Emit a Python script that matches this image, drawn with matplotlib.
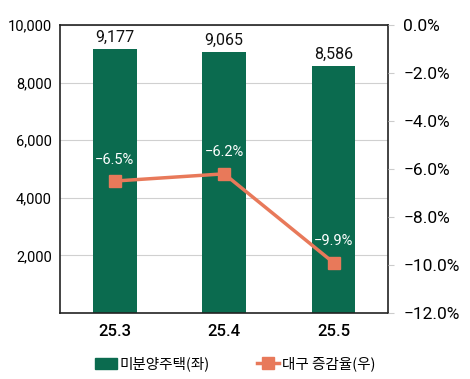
import matplotlib.pyplot as plt
from matplotlib.ticker import FuncFormatter

plt.rcParams['font.family'] = ['Roboto', 'Noto Sans CJK KR', 'DejaVu Sans']

# 데이터
months = ['25.3', '25.4', '25.5']
unsold = [9177, 9065, 8586]
rate = [-6.5, -6.2, -9.9]

bar_color = '#0b6b4f'
line_color = '#e8795a'

fig = plt.figure(figsize=(4.7, 3.79), dpi=100)
ax = fig.add_axes([0.128, 0.174, 0.698, 0.76])
x = range(len(months))

bars = ax.bar(x, unsold, width=0.4, color=bar_color, zorder=2)
ax.set_xlim(-0.5, 2.5)
ax.set_ylim(0, 10000)
ax.set_yticks([2000, 4000, 6000, 8000, 10000])
ax.yaxis.set_major_formatter(FuncFormatter(lambda v, p: f'{int(v):,}'))
ax.tick_params(axis='y', length=0, labelsize=10.5, pad=6)
ax.tick_params(axis='x', length=0, labelsize=12, pad=8)
ax.set_xticks(list(x))
ax.set_xticklabels(months, fontweight='medium')
ax.grid(axis='y', color='#d0d0d0', linewidth=0.8, zorder=0)
for s in ax.spines.values():
    s.set_color('#222222')
    s.set_linewidth(1.2)

for i, v in enumerate(unsold):
    ax.text(i, v + 150, f'{v:,}', ha='center', va='bottom', fontsize=11.5, color='#111111')

ax2 = ax.twinx()
ax2.plot(x, rate, color=line_color, linewidth=2.5, marker='s', markersize=9, zorder=3)
ax2.set_ylim(-12, 0)
ax2.set_yticks([0, -2, -4, -6, -8, -10, -12])
ax2.yaxis.set_major_formatter(FuncFormatter(lambda v, p: f'{v:.1f}%'.replace('-', '\u2212')))
ax2.tick_params(axis='y', length=4, color='#cccccc', labelsize=12.5, pad=7)
for s in ax2.spines.values():
    s.set_visible(False)

for i, v in enumerate(rate):
    ax2.text(i, v + 0.6, f'{v:.1f}%'.replace('-', '\u2212'), ha='center', va='bottom',
             fontsize=10.5, color='white', zorder=4)

# 범례
h1 = plt.Rectangle((0, 0), 1, 1, color=bar_color)
h2, = ax2.plot([], [], color=line_color, linewidth=2.5, marker='s', markersize=9)
fig.legend([h1, h2], ['미분양주택(좌)', '대구 증감율(우)'], loc='lower center',
           bbox_to_anchor=(0.5, -0.015), ncol=2, frameon=False,
           prop={'family': ['Noto Sans CJK KR'], 'size': 10.5, 'weight': 'medium'},
           handlelength=1.5, handletextpad=0.2, columnspacing=3.2)

fig.savefig('out.png', dpi=100)
